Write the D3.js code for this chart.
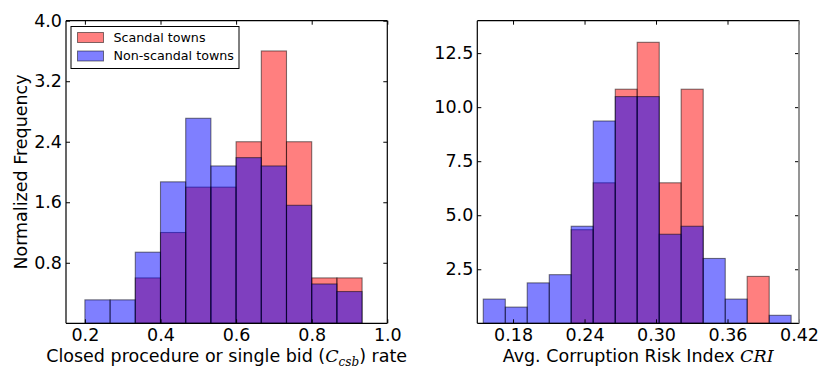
<!DOCTYPE html>
<html>
<head>
<meta charset="utf-8">
<script src="https://cdn.jsdelivr.net/npm/d3@7"></script>
<style>
  body { margin: 0; background: #fff; }
  svg text { font-family: "DejaVu Sans", sans-serif; fill: #000; }
  .math { font-family: "DejaVu Serif", serif; font-style: italic; }
</style>
</head>
<body>
<svg id="chart" width="830" height="383"></svg>
<script>
// left panel: closed procedure / single bid rate histogram
const csbEdges = [0.2, 0.2667, 0.3333, 0.4, 0.4667, 0.5333, 0.6, 0.6667, 0.7333, 0.8, 0.8667, 0.9333];
const csbScandal = [0, 0, 0.6, 1.2, 1.8, 1.8, 2.4, 3.6, 2.4, 0.6, 0.6];
const csbNonScandal = [0.31, 0.31, 0.94, 1.87, 2.71, 2.08, 2.19, 2.08, 1.56, 0.52, 0.42];
const csbXTicks = [0.2, 0.4, 0.6, 0.8, 1.0];
const csbYTicks = [0.8, 1.6, 2.4, 3.2, 4.0];

// right panel: average corruption risk index histogram
const criEdges = [0.155, 0.1735, 0.1919, 0.2104, 0.2288, 0.2473, 0.2658, 0.2842, 0.3027, 0.3211, 0.3396, 0.3581, 0.3765, 0.395, 0.4134];
const criScandal = [0, 0, 0, 0, 4.33, 6.5, 10.83, 13.0, 6.5, 10.83, 0, 0, 2.17, 0];
const criNonScandal = [1.12, 0.75, 1.87, 2.25, 4.49, 9.36, 10.49, 10.49, 4.12, 4.49, 3.0, 1.12, 0, 0.37];
const criXTicks = [0.18, 0.24, 0.30, 0.36, 0.42];
const criYTicks = [2.5, 5.0, 7.5, 10.0, 12.5];

const seriesNames = ['Scandal towns', 'Non-scandal towns'];
const seriesColors = ['red', 'blue'];

const svg = d3.select('svg#chart');

function drawPanel(opts) {
  const g = svg.append('g');
  const x = d3.scaleLinear().domain(opts.xDomain).range([opts.left, opts.right]);
  const y = d3.scaleLinear().domain(opts.yDomain).range([opts.bottom, opts.top]);

  // red first, blue drawn over it so the overlap turns purple
  [opts.scandal, opts.nonScandal].forEach((vals, si) => {
    const bins = vals.map((v, i) => ({ x0: opts.edges[i], x1: opts.edges[i + 1], v: v }))
      .filter(d => d.v > 0);
    g.append('g').selectAll('rect')
      .data(bins)
      .enter().append('rect')
      .attr('x', d => x(d.x0))
      .attr('y', d => y(d.v))
      .attr('width', d => x(d.x1) - x(d.x0))
      .attr('height', d => y(0) - y(d.v))
      .attr('fill', seriesColors[si])
      .attr('fill-opacity', 0.5)
      .attr('stroke', '#000')
      .attr('stroke-opacity', 0.5)
      .attr('stroke-width', 1.1);
  });

  // inward ticks on all four sides, labels only bottom and left
  const fmtX = opts.xFormat, fmtY = opts.yFormat;
  const bottomAxis = g.append('g').attr('transform', `translate(0,${opts.bottom})`)
    .call(d3.axisBottom(x).tickValues(opts.xTicks).tickFormat(fmtX)
      .tickSizeInner(-4).tickSizeOuter(0).tickPadding(4.8));
  const leftAxis = g.append('g').attr('transform', `translate(${opts.left},0)`)
    .call(d3.axisLeft(y).tickValues(opts.yTicks).tickFormat(fmtY)
      .tickSizeInner(-4).tickSizeOuter(0).tickPadding(4));
  const topAxis = g.append('g').attr('transform', `translate(0,${opts.top})`)
    .call(d3.axisTop(x).tickValues(opts.xTicks).tickFormat('')
      .tickSizeInner(-4).tickSizeOuter(0));
  const rightAxis = g.append('g').attr('transform', `translate(${opts.right},0)`)
    .call(d3.axisRight(y).tickValues(opts.yTicks).tickFormat('')
      .tickSizeInner(-4).tickSizeOuter(0));

  [bottomAxis, leftAxis, topAxis, rightAxis].forEach(a => {
    a.select('.domain').remove();
    a.selectAll('line').attr('stroke', '#000').attr('stroke-width', 1);
    a.selectAll('text')
      .style('font-family', '"DejaVu Sans", sans-serif')
      .style('font-size', '17.5px')
      .attr('fill', '#000');
  });

  // frame
  const spine = (x1, y1, x2, y2, color, w) => g.append('line')
    .attr('x1', x1).attr('y1', y1).attr('x2', x2).attr('y2', y2)
    .attr('stroke', color).attr('stroke-width', w);
  spine(opts.left, opts.top, opts.right, opts.top, '#000', 1.2);
  spine(opts.left, opts.bottom, opts.right, opts.bottom, '#000', 1.2);
  spine(opts.left, opts.top, opts.left, opts.bottom, '#000', 1.2);
  spine(opts.right, opts.top, opts.right, opts.bottom, opts.rightSpineColor, opts.rightSpineWidth);

  // x label with a math part
  const xl = g.append('text')
    .attr('x', (opts.left + opts.right) / 2)
    .attr('y', 362)
    .attr('text-anchor', 'middle')
    .style('font-size', '17.5px');
  opts.xLabel(xl);

  return { x: x, y: y, g: g };
}

const left = drawPanel({
  left: 66, right: 387.3, top: 20.7, bottom: 323.3,
  xDomain: [0.15, 1.0], yDomain: [0, 4.0],
  edges: csbEdges, scandal: csbScandal, nonScandal: csbNonScandal,
  xTicks: csbXTicks, yTicks: csbYTicks,
  xFormat: d3.format('.1f'), yFormat: d3.format('.1f'),
  rightSpineColor: '#000', rightSpineWidth: 1.2,
  xLabel: t => {
    t.append('tspan').text('Closed procedure or single bid (');
    t.append('tspan').attr('class', 'math').text('C');
    t.append('tspan').attr('class', 'math').attr('dy', 4).style('font-size', '12px').text('csb');
    t.append('tspan').attr('dy', -4).text(') rate');
  }
});

const right = drawPanel({
  left: 477.3, right: 799, top: 20.7, bottom: 323.3,
  xDomain: [0.15, 0.42], yDomain: [0, 14],
  edges: criEdges, scandal: criScandal, nonScandal: criNonScandal,
  xTicks: criXTicks, yTicks: criYTicks,
  xFormat: d3.format('.2f'), yFormat: d3.format('.1f'),
  rightSpineColor: '#8a8a8a', rightSpineWidth: 1.8,
  xLabel: t => {
    t.append('tspan').text('Avg. Corruption Risk Index ');
    t.append('tspan').attr('class', 'math').text('CRI');
  }
});

// y label on the left panel
svg.append('text')
  .attr('transform', 'translate(26.5,172) rotate(-90)')
  .attr('text-anchor', 'middle')
  .style('font-size', '17.5px')
  .text('Normalized Frequency');

// legend inside the left panel
const legend = svg.append('g');
legend.append('rect')
  .attr('x', 71).attr('y', 26.5).attr('width', 168).attr('height', 42)
  .attr('fill', '#fff').attr('stroke', '#000').attr('stroke-width', 1);
seriesNames.forEach((name, i) => {
  const cy = 37.5 + i * 18.5;
  legend.append('rect')
    .attr('x', 77.5).attr('y', cy - 5).attr('width', 26).attr('height', 10)
    .attr('fill', seriesColors[i]).attr('fill-opacity', 0.5)
    .attr('stroke', '#000').attr('stroke-opacity', 0.5);
  legend.append('text')
    .attr('x', 113.5).attr('y', cy)
    .attr('dy', '0.35em')
    .style('font-size', '12.7px')
    .text(name);
});
</script>
</body>
</html>
